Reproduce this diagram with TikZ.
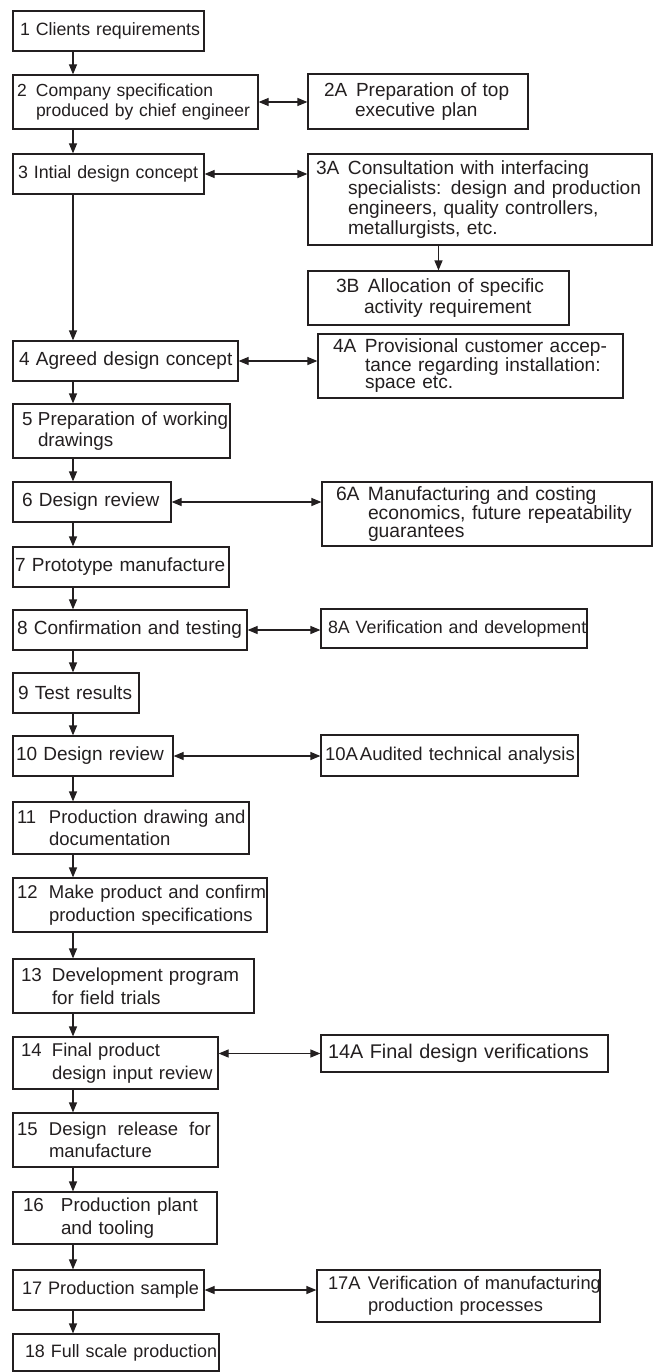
\documentclass[tikz,border=0pt]{standalone}
\usepackage{fontspec}
\setmainfont{Liberation Sans}
\usetikzlibrary{arrows.meta}
\definecolor{ink}{RGB}{35,31,32}
\newcommand\Ind[1]{\hspace*{#1pt}}
\newcommand\Lab[3]{\hspace*{#1pt}\makebox[\dimexpr#2pt-#1pt\relax][l]{#3}}
\newcommand\bx[7][]{%
  \pgfmathsetlengthmacro\bxw{#5-#3}%
  \pgfmathsetlengthmacro\bxh{#6-#4}%
  \node[box,minimum width=\bxw,minimum height=\bxh,text width=\bxw,#1] (#2) at ({(#3+#5)/2},{(#4+#6)/2}) {#7};}
\tikzset{
  box/.style={draw=ink, line width=1.2pt, inner sep=0pt, align=left, text=ink,
    font=\fontsize{18.8}{22}\selectfont},
  fsz/.style 2 args={font=\fontsize{#1}{#2}\selectfont},
  arr/.style={draw=ink, line width=1.2pt, -{Triangle[length=10pt,width=8pt]}},
  darr/.style={draw=ink, line width=1.2pt,
    {Triangle[length=10pt,width=8pt]}-{Triangle[length=10pt,width=8pt]}}
}
\begin{document}
\begin{tikzpicture}[x=1pt,y=-1pt]
\useasboundingbox[fill=white] (0,0) rectangle (653,1372);
% left column
\bx[fsz={17.8}{20}]{b1}{13}{11}{204}{51}{\Ind{7}\mbox{1 Clients requirements}}
\bx[fsz={17.5}{20}]{b2}{13}{75}{258}{129}{\Lab{4}{23}{2}\mbox{Company specification}\\\Ind{23}\mbox{produced by chief engineer}}
\bx[fsz={17.8}{20}]{b3}{13}{154}{204}{194}{\Ind{5}\mbox{3 Intial design concept}}
\bx[fsz={19}{22}]{b4}{13}{341}{238}{381}{\Ind{6}\mbox{4 Agreed design concept}}
\bx[fsz={18.8}{21.5}]{b5}{13}{404}{230}{458}{\Lab{9}{25}{5}\mbox{Preparation of working}\\\Ind{25}\mbox{drawings}}
\bx[fsz={19}{22}]{b6}{13}{482}{171}{522}{\Ind{9}\mbox{6 Design review}}
\bx[fsz={19}{22}]{b7}{13}{547}{229}{587}{\Ind{2}\mbox{7 Prototype manufacture}}
\bx[fsz={19}{22}]{b8}{13}{610}{247}{650}{\Ind{4}\mbox{8 Confirmation and testing}}
\bx[fsz={19}{22}]{b9}{13}{673}{139}{713}{\Ind{5}\mbox{9 Test results}}
\bx[fsz={19}{22}]{b10}{13}{736}{173}{776}{\Ind{3}\mbox{10 Design review}}
\bx[fsz={18.5}{22.5}]{b11}{13}{802}{249}{854}{\Lab{4}{36}{11}\mbox{Production drawing and}\\\Ind{36}\mbox{documentation}}
\bx[fsz={18.5}{22.5}]{b12}{13}{878}{267}{932}{\Lab{4}{36}{12}\mbox{Make product and confirm}\\\Ind{36}\mbox{production specifications}}
\bx[fsz={18.8}{23}]{b13}{13}{959}{254}{1013}{\Lab{8}{39}{13}\mbox{Development program}\\\Ind{39}\mbox{for field trials}}
\bx[fsz={18.5}{23}]{b14}{13}{1037}{218}{1089}{\Lab{8}{39}{14}\mbox{Final product}\\\Ind{39}\mbox{design input review}}
\bx[fsz={18.5}{22}]{b15}{13}{1113}{218}{1167}{\Lab{4}{36}{15}\mbox{Design\hspace{11pt}release\hspace{11pt}for}\\\Ind{36}\mbox{manufacture}}
\bx[fsz={18.8}{22.5}]{b16}{13}{1192}{217}{1244}{\Lab{10}{48}{16}\mbox{Production plant}\\\Ind{48}\mbox{and tooling}}
\bx[fsz={18.1}{22}]{b17}{13}{1270}{204}{1310}{\Ind{9}\mbox{17 Production sample}}
\bx[fsz={17.9}{22}]{b18}{13}{1334}{219}{1371}{\Ind{12}\mbox{18 Full scale production}}
% right column
\bx[fsz={19}{20.5}]{a2}{308}{74}{528}{129}{\Lab{16}{48}{2A}\mbox{Preparation of top}\\\Ind{47}\mbox{executive plan}}
\bx[fsz={19.1}{20}]{a3}{308}{154}{652}{245}{\Lab{8}{40}{3A}\mbox{Consultation with interfacing}\\\Ind{40}\mbox{specialists: design and production}\\\Ind{40}\mbox{engineers, quality controllers,}\\\Ind{40}\mbox{metallurgists, etc.}}
\bx[fsz={19.2}{21.5}]{a3b}{308}{271}{569}{325}{\Lab{28}{60}{3B}\mbox{Allocation of specific}\\\Ind{56}\mbox{activity requirement}}
\bx[fsz={19.1}{15.7}]{a4}{318}{334}{623}{398}{\Lab{15}{47}{4A}\mbox{Provisional customer accep-}\\\Ind{47}\mbox{tance regarding installation:}\\\Ind{47}\mbox{space etc.}}
\bx[fsz={19.3}{15}]{a6}{322}{482}{652}{546}{\Lab{14}{46}{6A}\mbox{Manufacturing and costing}\\\Ind{46}\mbox{economics, future repeatability}\\\Ind{46}\mbox{guarantees}}
\bx[fsz={17.8}{20}]{a8}{321}{609}{587}{648}{\Ind{7}\mbox{8A Verification and development}}
\bx[fsz={18.5}{20}]{a10}{321}{735}{578}{776}{\Ind{4}\mbox{10A\hspace{2pt}Audited technical analysis}}
\bx[fsz={19.8}{20}]{a14}{321}{1035}{608}{1072}{\Ind{7}\mbox{14A Final design verifications}}
\bx[fsz={18.3}{21.5}]{a17}{317}{1270}{600}{1322}{\Lab{11}{51}{17A}\mbox{Verification of manufacturing}\\\Ind{51}\mbox{production processes}}
% vertical connectors
\coordinate (col) at (73,0);
\foreach \u/\v in {b1/b2,b2/b3,b3/b4,b4/b5,b5/b6,b6/b7,b7/b8,b8/b9,b9/b10,b10/b11,b11/b12,b12/b13,b13/b14,b14/b15,b15/b16,b16/b17,b17/b18}
  \draw[arr] (\u.south -| col) -- (\v.north -| col);
\draw[arr] (a3.south -| a3b.north) -- (a3b.north);
% horizontal two-way connectors
\foreach \u/\v in {b2/a2,b3/a3,b4/a4,b6/a6,b8/a8,b10/a10,b17/a17}
  \draw[darr] (\u.east) -- (\v.west |- \u.east);
\draw[darr] (b14.east |- a14.west) -- (a14.west);
\end{tikzpicture}
\end{document}
